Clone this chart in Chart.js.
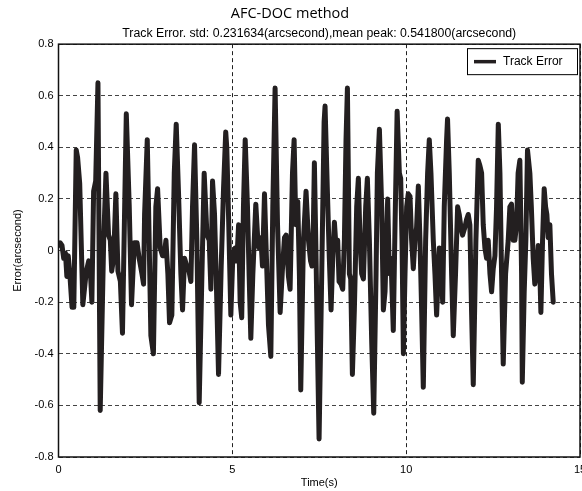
<!DOCTYPE html>
<html>
<head>
<meta charset="utf-8">
<script src="https://cdn.jsdelivr.net/npm/chart.js@4.4.1/dist/chart.umd.min.js"></script>
<style>
  html, body { margin: 0; padding: 0; background: #fff; overflow: hidden; }
  #wrap { width: 582px; height: 491px; }
</style>
</head>
<body>
<div id="wrap"><canvas id="chart" width="582" height="491"></canvas></div>
<script>
// sample times (s)
const trackTime = [
  0.00, 0.05, 0.10, 0.15, 0.20, 0.24, 0.28, 0.32, 0.39, 0.44,
  0.51, 0.55, 0.61, 0.70, 0.80, 0.87, 0.92, 0.96, 1.01, 1.07,
  1.135, 1.20, 1.30, 1.365, 1.44, 1.49, 1.53, 1.585, 1.65, 1.71,
  1.78, 1.84, 1.95, 2.035, 2.10, 2.18, 2.26, 2.32, 2.40, 2.447,
  2.476, 2.553, 2.59, 2.657, 2.73, 2.80, 2.85, 2.926, 2.993, 3.04,
  3.09, 3.146, 3.194, 3.26, 3.33, 3.386, 3.453, 3.52, 3.568, 3.625,
  3.69, 3.74, 3.808, 3.855, 3.913, 3.98, 4.047, 4.124, 4.19, 4.27,
  4.335, 4.383, 4.43, 4.488, 4.536, 4.603, 4.68, 4.747, 4.81, 4.84,
  4.89, 4.957, 5.015, 5.08, 5.13, 5.18, 5.225, 5.27, 5.32, 5.37,
  5.436, 5.484, 5.532, 5.59, 5.675, 5.733, 5.77, 5.82, 5.867, 5.925,
  5.972, 6.04, 6.107, 6.164, 6.23, 6.30, 6.375, 6.442, 6.50, 6.547,
  6.614, 6.662, 6.73, 6.777, 6.825, 6.882, 6.93, 6.968, 7.045, 7.12,
  7.19, 7.25, 7.29, 7.33, 7.36, 7.40, 7.447, 7.495, 7.57, 7.64,
  7.667, 7.734, 7.79, 7.84, 7.888, 7.936, 7.984, 8.03, 8.07, 8.127,
  8.175, 8.223, 8.27, 8.31, 8.367, 8.405, 8.453, 8.51, 8.577, 8.625,
  8.673, 8.72, 8.77, 8.836, 8.884, 8.942, 9.01, 9.067, 9.134, 9.172,
  9.23, 9.296, 9.344, 9.392, 9.468, 9.516, 9.564, 9.63, 9.68, 9.74,
  9.804, 9.842, 9.88, 9.92, 9.967, 10.014, 10.06, 10.11, 10.157, 10.205,
  10.253, 10.30, 10.35, 10.397, 10.445, 10.493, 10.56, 10.617, 10.665, 10.713,
  10.78, 10.828, 10.876, 10.924, 10.953, 11.00, 11.05, 11.096, 11.163, 11.19,
  11.24, 11.307, 11.355, 11.42, 11.48, 11.527, 11.575, 11.623, 11.69, 11.737,
  11.785, 11.833, 11.88, 11.93, 12.006, 12.073, 12.12, 12.17, 12.217, 12.265,
  12.313, 12.36, 12.41, 12.457, 12.505, 12.553, 12.60, 12.65, 12.697, 12.744,
  12.792, 12.86, 12.935, 12.983, 13.03, 13.08, 13.127, 13.175, 13.22, 13.27,
  13.32, 13.34, 13.395, 13.443, 13.49, 13.558, 13.60, 13.654, 13.70, 13.75,
  13.80, 13.846, 13.875, 13.923, 13.97, 14.01, 14.047, 14.085, 14.133, 14.18,
  14.23
];

// tracking error (arcsecond) at those times
const trackError = [
  0.02, 0.03, 0.02, -0.03, -0.01, -0.10, -0.02, -0.08, -0.22, -0.22,
  0.39, 0.36, 0.26, -0.21, -0.08, -0.04, -0.09, -0.20, 0.23, 0.27,
  0.65, -0.62, 0.04, 0.30, 0.06, 0.04, -0.08, -0.03, 0.22, -0.08,
  -0.12, -0.32, 0.53, 0.17, -0.21, 0.03, 0.03, -0.03, -0.09, -0.13,
  0.14, 0.43, 0.17, -0.33, -0.40, 0.17, 0.24, 0.01, -0.02, -0.02,
  0.04, -0.09, -0.28, -0.25, 0.30, 0.49, 0.22, -0.09, -0.23, -0.03,
  -0.06, -0.07, -0.12, 0.17, 0.41, 0.04, -0.59, -0.10, 0.30, 0.06,
  0.04, -0.15, 0.27, 0.14, -0.10, -0.48, -0.06, 0.24, 0.46, 0.40,
  0.14, -0.25, -0.02, 0.01, -0.04, 0.10, -0.20, -0.26, 0.17, 0.43,
  0.17, -0.10, -0.34, -0.09, 0.18, 0.04, 0.01, 0.05, -0.06, 0.22,
  0.01, -0.29, -0.41, 0.17, 0.63, 0.10, -0.24, -0.07, 0.05, 0.06,
  -0.10, -0.15, 0.30, 0.43, 0.10, 0.19, -0.10, -0.54, 0.04, 0.23,
  0.04, -0.04, -0.06, 0.09, 0.34, 0.04, -0.36, -0.73, -0.10, 0.50,
  0.56, 0.23, -0.03, -0.23, -0.03, 0.11, 0.01, 0.04, -0.12, -0.13,
  -0.15, 0.04, 0.43, 0.63, -0.09, -0.11, -0.48, -0.23, 0.17, 0.28,
  0.04, -0.09, -0.11, 0.17, 0.28, 0.04, -0.36, -0.63, -0.09, 0.30,
  0.47, 0.17, -0.23, -0.16, 0.20, -0.09, -0.03, -0.31, 0.10, 0.54,
  0.30, 0.28, 0.04, -0.40, -0.09, 0.17, 0.22, 0.21, 0.04, -0.07,
  0.04, 0.09, 0.25, 0.04, -0.23, -0.53, 0.04, 0.30, 0.43, 0.30,
  0.04, -0.09, -0.25, -0.09, 0.01, -0.03, -0.20, 0.17, 0.43, 0.51,
  0.30, -0.09, -0.33, -0.09, 0.17, 0.14, 0.09, 0.06, 0.09, 0.12,
  0.14, 0.10, -0.23, -0.52, 0.04, 0.35, 0.33, 0.30, 0.10, 0.01,
  -0.03, 0.04, -0.09, -0.16, -0.07, -0.02, 0.17, 0.49, 0.30, -0.09,
  -0.44, -0.09, 0.04, 0.17, 0.18, 0.04, 0.04, 0.10, 0.30, 0.35,
  -0.09, -0.51, -0.16, 0.04, 0.39, 0.30, 0.17, -0.03, -0.13, -0.09,
  0.02, -0.09, -0.24, 0.04, 0.24, 0.17, 0.14, 0.05, 0.10, -0.09,
  -0.20
];

const xTicks = [0, 5, 10, 15];
const yTicks = [-0.8, -0.6, -0.4, -0.2, 0, 0.2, 0.4, 0.6, 0.8];

const lineColor = "#231f20";
const tickFont = { family: "Liberation Sans", size: 11 };

// solid frame round the plot, like the matlab "box on"
const framePlugin = {
  id: "frame",
  afterDraw(chart) {
    const { ctx, chartArea: a } = chart;
    ctx.save();
    ctx.strokeStyle = "#111";
    ctx.lineWidth = 1.5;
    ctx.strokeRect(a.left, a.top, a.right - a.left, a.bottom - a.top);
    ctx.restore();
  },
};

// legend box in the top right corner of the plot
const boxLegendPlugin = {
  id: "boxLegend",
  afterDraw(chart) {
    const { ctx, chartArea: a } = chart;
    const ds = chart.data.datasets[0];
    const w = 110, h = 26;
    const x = a.right - 3 - w, y = a.top + 4;
    ctx.save();
    ctx.fillStyle = "#fff";
    ctx.fillRect(x, y, w, h);
    ctx.strokeStyle = "#000";
    ctx.lineWidth = 1;
    ctx.strokeRect(x + 0.5, y + 0.5, w, h);
    ctx.beginPath();
    ctx.moveTo(x + 7, y + h / 2 + 0.5);
    ctx.lineTo(x + 29, y + h / 2 + 0.5);
    ctx.lineWidth = 3.5;
    ctx.strokeStyle = ds.borderColor;
    ctx.stroke();
    ctx.fillStyle = "#000";
    ctx.font = '12px "Liberation Sans"';
    ctx.textBaseline = "middle";
    ctx.fillText(ds.label, x + 36, y + h / 2 + 1);
    ctx.restore();
  },
};

const fmt = (v) => {
  const r = Math.round(v * 10) / 10;
  return r === 0 ? "0" : String(r);
};

new Chart(document.getElementById("chart"), {
  type: "line",
  data: {
    datasets: [
      {
        label: "Track Error",
        data: trackTime.map((t, i) => ({ x: t, y: trackError[i] })),
        borderColor: lineColor,
        borderWidth: 5,
        borderJoinStyle: "round",
        borderCapStyle: "round",
        pointRadius: 0,
        tension: 0,
        fill: false,
      },
    ],
  },
  options: {
    responsive: false,
    animation: false,
    layout: { padding: { left: 0, right: 2, top: 0, bottom: 0 } },
    plugins: {
      legend: { display: false },
      tooltip: { enabled: false },
      title: {
        display: true,
        text: "AFC-DOC method",
        color: "#000",
        font: { family: "Open Sans", size: 14.5, weight: "normal" },
        padding: { top: 5, bottom: 4 },
      },
      subtitle: {
        display: true,
        fullSize: false,
        text: "Track Error. std: 0.231634(arcsecond),mean peak: 0.541800(arcsecond)",
        color: "#000",
        font: { family: "Liberation Sans", size: 12.3 },
        padding: { top: 0, bottom: 3 },
      },
    },
    scales: {
      x: {
        type: "linear",
        min: 0,
        max: 15,
        afterBuildTicks: (s) => { s.ticks = xTicks.map((v) => ({ value: v })); },
        afterFit: (s) => { s.height = 34; s.paddingLeft = 0; s.paddingRight = 0; },
        ticks: { color: "#000", font: tickFont, padding: 6, maxRotation: 0, callback: (v) => String(v) },
        grid: { color: "#222", lineWidth: 1, drawTicks: false },
        border: { display: false, dash: [4, 3] },
        title: {
          display: true,
          text: "Time(s)",
          color: "#000",
          font: { family: "Liberation Sans", size: 11 },
          padding: { top: 0, bottom: 1.5 },
        },
      },
      y: {
        min: -0.8,
        max: 0.8,
        afterBuildTicks: (s) => { s.ticks = yTicks.map((v) => ({ value: v })); },
        afterFit: (s) => { s.width = 58.5; s.paddingTop = 0; s.paddingBottom = 0; },
        ticks: { color: "#000", font: tickFont, padding: 5, callback: fmt },
        grid: { color: "#444", lineWidth: 1, drawTicks: false },
        border: { display: false, dash: [4, 3] },
        title: {
          display: true,
          text: "Error(arcsecond)",
          color: "#000",
          font: { family: "Liberation Sans", size: 11 },
          padding: { top: 11, bottom: 0 },
        },
      },
    },
  },
  plugins: [framePlugin, boxLegendPlugin],
});
</script>
</body>
</html>
